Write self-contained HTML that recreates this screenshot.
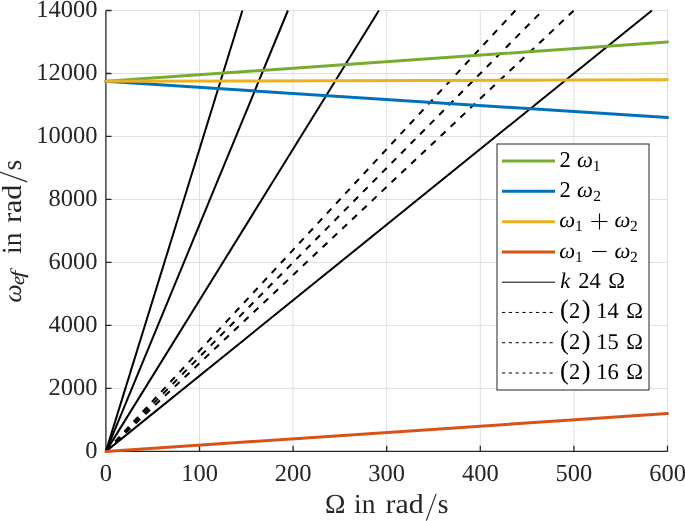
<!DOCTYPE html>
<html><head><meta charset="utf-8"><style>
html,body{margin:0;padding:0;background:#fff;width:685px;height:521px;overflow:hidden}
svg{display:block;will-change:transform}
text{font-family:"Liberation Serif",serif;text-rendering:geometricPrecision}
</style></head><body>
<svg width="685" height="521" viewBox="0 0 685 521" font-family="Liberation Serif">
<rect width="685" height="521" fill="#fff"/>
<path d="M199.50 10.50V451.40M293.10 10.50V451.40M386.70 10.50V451.40M480.30 10.50V451.40M573.90 10.50V451.40M667.50 10.50V451.40M105.90 388.41H667.50M105.90 325.43H667.50M105.90 262.44H667.50M105.90 199.46H667.50M105.90 136.47H667.50M105.90 73.49H667.50M105.90 10.50H667.50" stroke="#dfdfdf" stroke-width="1" fill="none"/>
<path d="M105.90 10.50V451.40H667.50M105.90 451.40v-5.6M199.50 451.40v-5.6M293.10 451.40v-5.6M386.70 451.40v-5.6M480.30 451.40v-5.6M573.90 451.40v-5.6M667.50 451.40v-5.6M105.90 451.40h5.6M105.90 388.41h5.6M105.90 325.43h5.6M105.90 262.44h5.6M105.90 199.46h5.6M105.90 136.47h5.6M105.90 73.49h5.6M105.90 10.50h5.6" stroke="#262626" stroke-width="1.3" fill="none"/>
<defs><clipPath id="c"><rect x="102.9" y="9.5" width="567.6" height="444.9"/></clipPath></defs>
<g clip-path="url(#c)">
<line x1="105.90" y1="451.40" x2="651.90" y2="10.50" stroke="#000" stroke-width="2"/>
<line x1="105.90" y1="451.40" x2="378.90" y2="10.50" stroke="#000" stroke-width="2"/>
<line x1="105.90" y1="451.40" x2="287.90" y2="10.50" stroke="#000" stroke-width="2"/>
<line x1="105.90" y1="451.40" x2="242.40" y2="10.50" stroke="#000" stroke-width="2"/>
<line x1="105.90" y1="451.40" x2="573.90" y2="10.50" stroke="#000" stroke-width="2" stroke-dasharray="6.6 6.93"/>
<line x1="105.90" y1="451.40" x2="542.70" y2="10.50" stroke="#000" stroke-width="2" stroke-dasharray="6.6 6.93"/>
<line x1="105.90" y1="451.40" x2="515.40" y2="10.50" stroke="#000" stroke-width="2" stroke-dasharray="6.6 6.93"/>
<line x1="105.90" y1="81.36" x2="667.50" y2="41.99" stroke="#77ac30" stroke-width="3" stroke-linecap="round"/>
<line x1="105.90" y1="81.36" x2="667.50" y2="117.58" stroke="#0072bd" stroke-width="3" stroke-linecap="round"/>
<line x1="105.90" y1="81.36" x2="667.50" y2="79.78" stroke="#edb120" stroke-width="3" stroke-linecap="round"/>
<line x1="105.90" y1="451.40" x2="667.50" y2="413.61" stroke="#d95319" stroke-width="3" stroke-linecap="round"/>
</g>
<g font-size="24.5" fill="#262626">
<text x="97.4" y="457.90" text-anchor="end">0</text>
<text x="97.4" y="394.91" text-anchor="end">2000</text>
<text x="97.4" y="331.93" text-anchor="end">4000</text>
<text x="97.4" y="268.94" text-anchor="end">6000</text>
<text x="97.4" y="205.96" text-anchor="end">8000</text>
<text x="97.4" y="142.97" text-anchor="end">10000</text>
<text x="97.4" y="79.99" text-anchor="end">12000</text>
<text x="97.4" y="17.00" text-anchor="end">14000</text>
<text x="105.90" y="480.5" text-anchor="middle">0</text>
<text x="199.50" y="480.5" text-anchor="middle">100</text>
<text x="293.10" y="480.5" text-anchor="middle">200</text>
<text x="386.70" y="480.5" text-anchor="middle">300</text>
<text x="480.30" y="480.5" text-anchor="middle">400</text>
<text x="573.90" y="480.5" text-anchor="middle">500</text>
<text x="667.50" y="480.5" text-anchor="middle">600</text>
</g>
<text x="324.88" y="513.40" font-size="27.5" fill="#262626">&#937;</text>
<text x="354.02" y="513.40" font-size="27.5" fill="#262626">in</text>
<text x="385.45" y="513.4" font-size="27.5" fill="#262626" textLength="38.16" lengthAdjust="spacingAndGlyphs">rad</text>
<path d="M426.3 520.6L436.1 493.9" stroke="#262626" stroke-width="1.15" fill="none"/>
<text x="437.77" y="513.40" font-size="27.5" fill="#262626">s</text>
<g transform="translate(20.5 0) rotate(-90)"><text x="-302.45" y="0.00" font-size="25.5" font-style="italic" fill="#262626">&#969;</text><g transform="translate(-284.5 3.6) scale(1.05 1)"><text x="-0.60" y="0.00" font-size="19.5" font-style="italic" fill="#262626">e</text></g><g transform="translate(-277.6 3.6) scale(1.35 1)"><text x="-0.22" y="0.00" font-size="19.5" font-style="italic" fill="#262626">f</text></g><text x="-253.98" y="0.00" font-size="27.5" fill="#262626">in</text><text x="-222.85" y="0" font-size="27.5" fill="#262626" textLength="38.16" lengthAdjust="spacingAndGlyphs">rad</text><text x="-170.43" y="0.00" font-size="27.5" fill="#262626">s</text></g>
<path d="M27.2 181.9L-0.4 171.9" stroke="#262626" stroke-width="1.15" fill="none"/>
<rect x="497.0" y="144.0" width="152.0" height="246.0" fill="#fff" stroke="#262626" stroke-width="1"/>
<line x1="502" y1="161.10" x2="555" y2="161.10" stroke="#77ac30" stroke-width="3"/>
<line x1="502" y1="191.37" x2="555" y2="191.37" stroke="#0072bd" stroke-width="3"/>
<line x1="502" y1="221.64" x2="555" y2="221.64" stroke="#edb120" stroke-width="3"/>
<line x1="502" y1="251.91" x2="555" y2="251.91" stroke="#d95319" stroke-width="3"/>
<line x1="502" y1="282.18" x2="555" y2="282.18" stroke="#000" stroke-width="1"/>
<line x1="502" y1="312.45" x2="555" y2="312.45" stroke="#000" stroke-width="1" stroke-dasharray="3.2 3.59"/>
<line x1="502" y1="342.72" x2="555" y2="342.72" stroke="#000" stroke-width="1" stroke-dasharray="3.2 3.59"/>
<line x1="502" y1="372.99" x2="555" y2="372.99" stroke="#000" stroke-width="1" stroke-dasharray="3.2 3.59"/>
<g><text x="559.61" y="166.90" font-size="22.5" fill="#000">2</text><text x="577.05" y="166.90" font-size="22.5" font-style="italic" fill="#000">&#969;</text><text x="592.64" y="170.70" font-size="15.5" fill="#000">1</text><text x="559.61" y="197.17" font-size="22.5" fill="#000">2</text><text x="577.05" y="197.17" font-size="22.5" font-style="italic" fill="#000">&#969;</text><text x="593.32" y="200.97" font-size="15.5" fill="#000">2</text><text x="559.35" y="227.44" font-size="22.5" font-style="italic" fill="#000">&#969;</text><text x="574.94" y="231.24" font-size="15.5" fill="#000">1</text><path d="M591.3 221.50H607.4M599.5 213.50V229.40" stroke="#000" stroke-width="1.1" fill="none"/><text x="614.55" y="227.44" font-size="22.5" font-style="italic" fill="#000">&#969;</text><text x="630.02" y="231.24" font-size="15.5" fill="#000">2</text><text x="559.35" y="257.71" font-size="22.5" font-style="italic" fill="#000">&#969;</text><text x="574.94" y="261.51" font-size="15.5" fill="#000">1</text><path d="M592.2 251.50H606.6" stroke="#000" stroke-width="1.1" fill="none"/><text x="614.55" y="257.71" font-size="22.5" font-style="italic" fill="#000">&#969;</text><text x="630.02" y="261.51" font-size="15.5" fill="#000">2</text><text x="560.15" y="287.98" font-size="22.5" font-style="italic" fill="#000">k</text><text x="578.21" y="287.98" font-size="22.5" fill="#000">24</text><text x="608.24" y="287.98" font-size="22.5" fill="#000">&#937;</text><text x="560.04" y="318.45" font-size="26.5" fill="#000">(</text><text x="568.91" y="318.25" font-size="22.5" fill="#000">2</text><text x="581.75" y="318.45" font-size="26.5" fill="#000">)</text><text x="596.22" y="318.25" font-size="22.5" fill="#000">14</text><text x="626.34" y="318.25" font-size="22.5" fill="#000">&#937;</text><text x="560.04" y="348.72" font-size="26.5" fill="#000">(</text><text x="568.91" y="348.52" font-size="22.5" fill="#000">2</text><text x="581.75" y="348.72" font-size="26.5" fill="#000">)</text><text x="596.22" y="348.52" font-size="22.5" fill="#000">15</text><text x="626.34" y="348.52" font-size="22.5" fill="#000">&#937;</text><text x="560.04" y="378.99" font-size="26.5" fill="#000">(</text><text x="568.91" y="378.79" font-size="22.5" fill="#000">2</text><text x="581.75" y="378.99" font-size="26.5" fill="#000">)</text><text x="596.22" y="378.79" font-size="22.5" fill="#000">16</text><text x="626.34" y="378.79" font-size="22.5" fill="#000">&#937;</text></g>
</svg>
</body></html>
